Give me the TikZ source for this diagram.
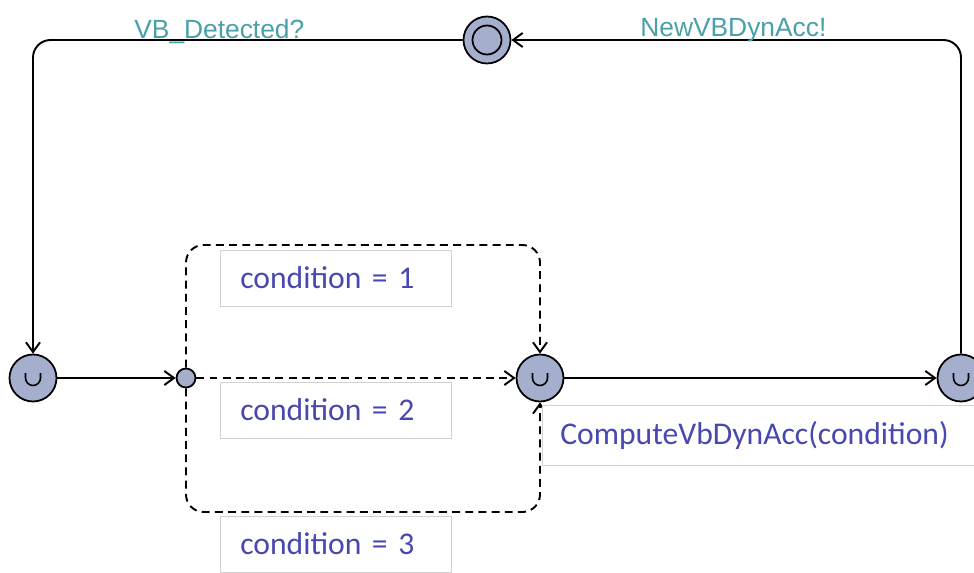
\documentclass[tikz,border=0pt]{standalone}
\usepackage{fontspec}
\setmainfont{Carlito}
\newfontfamily\syncfont{Liberation Sans}
\usetikzlibrary{arrows.meta}
\definecolor{locfill}{RGB}{166,174,206}
\definecolor{synccol}{RGB}{72,160,168}
\definecolor{labcol}{RGB}{72,72,176}
\tikzset{
  loc/.style={circle,draw,line width=1pt,fill=locfill,minimum size=0.94cm,inner sep=0pt},
  urgentloc/.style={loc,path picture={
    \draw[line width=0.9pt] ([shift={(-0.15cm,0.1cm)}]path picture bounding box.center)
      -- ++(0,-0.1cm) arc[start angle=180,end angle=360,radius=0.15cm] -- ++(0,0.1cm);}},
  initloc/.style={loc,path picture={
    \draw[line width=1pt] (path picture bounding box.center) circle[radius=0.29cm];}},
  branchpt/.style={circle,draw,line width=1pt,fill=locfill,minimum size=0.38cm,inner sep=0pt},
  lab/.style={draw=black!18,fill=white,anchor=west,text=labcol,font=\fontsize{18}{20}\selectfont,
    minimum height=1.12cm,inner xsep=0.4cm,align=left},
  synclab/.style={text=synccol,font=\syncfont\fontsize{15}{16}\selectfont,anchor=base west,inner sep=0pt},
  edge/.style={line width=1.1pt,->,rounded corners=10pt},
}
\begin{document}
\begin{tikzpicture}[x=0.02cm,y=0.02cm,>={Straight Barb[length=5.5pt,width=8pt]}]
  \useasboundingbox (0,0) rectangle (974,572);
  \clip (0,0) rectangle (974,572);
  % locations
  \node[initloc] (init) at (487,532) {};
  \node[urgentloc] (wait) at (33,194) {};
  \node[branchpt] (br) at (186,194) {};
  \node[urgentloc] (comp) at (540,194) {};
  \node[urgentloc] (done) at (961,194) {};
  \coordinate (ftop) at (363,327);
  \coordinate (fbot) at (363,60);
  % edges
  \draw[edge] (init.west) -| (wait.north);
  \draw[edge] (done.north) |- (init.east);
  \draw[edge] (wait) -- (br);
  \draw[edge] (comp) -- (done);
  \draw[edge,dash pattern=on 4.5pt off 3pt] (br.north) |- (ftop) -| (comp.north);
  \draw[edge,dash pattern=on 4.5pt off 3pt] (br) -- (comp);
  \draw[edge,dash pattern=on 4.5pt off 3pt] (br.south) |- (fbot) -| (comp.south);
  % labels
  \node[synclab] (s1) at (134,533.5) {VB\_Detected?};
  \node[synclab] (s2) at (640,535) {NewVBDynAcc!};
  \node[lab,text width=3.82cm] (c1) at (220,294) {condition = 1};
  \node[lab,text width=3.82cm] (c2) at (220,162) {condition = 2};
  \node[lab,text width=3.82cm] (c3) at (220,28) {condition = 3};
  \node[lab,text width=9cm,minimum height=1.2cm,inner xsep=0.36cm] (u1) at (542,137) {ComputeVbDynAcc(condition)};
\end{tikzpicture}
\end{document}
